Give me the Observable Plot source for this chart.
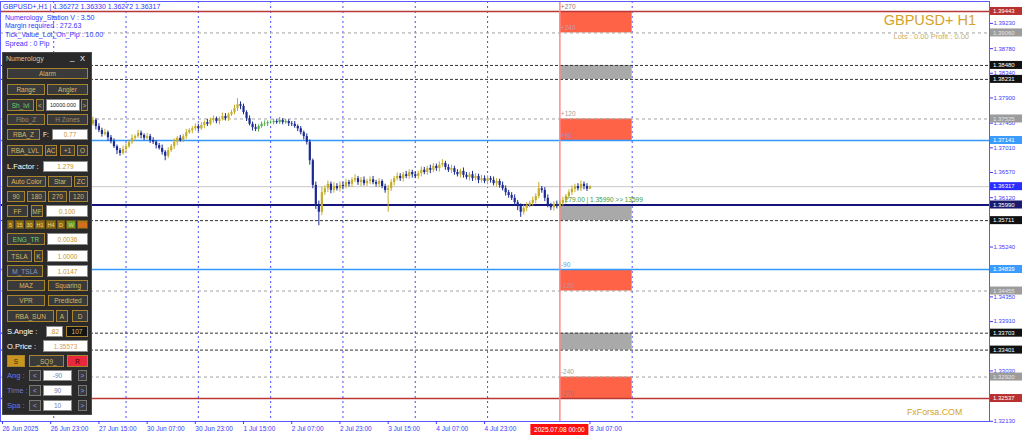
<!DOCTYPE html>
<html><head><meta charset="utf-8">
<script src="https://cdn.jsdelivr.net/npm/d3@7"></script>
<script src="https://cdn.jsdelivr.net/npm/@observablehq/plot@0.6"></script>
<style>
body{margin:0;background:#fff;}
#wrap{position:relative;width:1024px;height:439px;overflow:hidden;font-family:"Liberation Sans",Arial,sans-serif;}
#wrap>svg{position:absolute;left:0;top:0;}
.info{position:absolute;color:#3434ff;font-size:7px;line-height:8px;white-space:nowrap;}
#panel{position:absolute;left:2px;top:52px;width:90px;height:363px;background:#2a2a2a;border:1px solid #4a4a4a;box-sizing:border-box;}
.pe{position:absolute;box-sizing:border-box;display:flex;align-items:center;white-space:nowrap;font-size:6.5px;}
.b{border:1px solid #a8852c;background:#3a3a3a;color:#d8b866;justify-content:center;}
.s{border:1px solid #6a5418;background:#8a6c14;color:#e8d28a;justify-content:center;font-size:5.5px;}
.i{border:1px solid #8a8a8a;background:#fff;color:#c8962e;justify-content:center;}
.a{border:1px solid #777;background:#3a3a3a;color:#8aa0ff;justify-content:center;}
.l{color:#fff;font-size:7.5px;}
</style></head>
<body><div id="wrap"></div>
<script>
// ---------- data ----------
const firstBar = 29;                // bar index of first drawn candle (26 Jun 2025 07:00 = bar 0)
const firstOpen = 1.3735;
const closes = [
 1.3743,1.3750,1.3739,1.3732,1.3725,1.3728,1.3719,1.3712,1.3703,1.3696,1.3691,1.3698,
 1.3703,1.3711,1.3718,1.3721,1.3727,1.3723,1.3718,1.3721,1.3714,1.3711,1.3705,1.3700,1.3693,1.3686,1.3696,1.3703,1.3711,1.3718,1.3714,1.3721,1.3728,1.3732,1.3735,1.3739,
 1.3735,1.3741,1.3746,1.3743,1.3750,1.3753,1.3748,1.3752,1.3757,1.3753,1.3760,1.3764,1.3771,1.3778,1.3775,1.3764,1.3753,1.3743,1.3737,1.3734,1.3739,1.3743,1.3744,1.3746,
 1.3746,1.3748,1.3746,1.3750,1.3746,1.3748,1.3744,1.3743,1.3739,1.3735,1.3728,1.3721,1.3711,1.3678,1.3634,1.3598,1.3586,1.3621,1.3628,1.3636,1.3625,1.3632,1.3628,1.3634,
 1.3632,1.3639,1.3636,1.3643,1.3646,1.3639,1.3643,1.3637,1.3641,1.3644,1.3639,1.3636,1.3641,1.3632,1.3625,1.3628,1.3639,1.3646,1.3650,1.3646,1.3653,1.3650,1.3657,1.3653,
 1.3650,1.3655,1.3661,1.3657,1.3664,1.3661,1.3668,1.3664,1.3670,1.3673,1.3666,1.3661,1.3664,1.3657,1.3653,1.3659,1.3652,1.3648,1.3653,1.3646,1.3650,1.3643,1.3646,1.3641,
 1.3646,1.3643,1.3637,1.3641,1.3634,1.3628,1.3621,1.3616,1.3611,1.3603,1.3596,1.3586,1.3593,1.3598,1.3602,1.3607,1.3614,1.3628,1.3625,1.3611,1.3598,1.3594,1.3600,1.3596,
 1.3602,1.3607,1.3614,1.3621,1.3627,1.3632,1.3628,1.3636,1.3632,1.36272,1.36317
];
const upPips = [
 4,6,3,5,4,6,3,4,5,3,4,6,
 5,4,6,3,5,4,3,6,4,5,3,4,6,3,5,4,6,3,5,4,6,3,4,5,
 4,5,3,6,4,5,3,4,6,5,3,4,6,11,5,4,3,5,4,6,3,4,5,3,
 3,4,3,5,3,4,3,4,5,3,4,3,5,4,3,6,8,10,5,6,4,7,5,6,
 5,6,4,5,7,4,5,6,4,5,6,4,5,3,4,6,5,4,6,5,4,6,5,4,
 5,4,6,5,4,6,5,4,6,7,4,5,6,4,5,4,6,5,4,6,5,4,6,5,
 5,4,6,5,4,6,5,4,5,6,4,5,6,5,4,6,5,11,4,5,6,4,5,6,
 5,6,4,5,6,4,5,6,4,5,1.3
];
const dnPips = [
 5,3,6,4,5,3,6,4,3,7,5,3,
 6,3,4,5,3,6,4,3,5,4,6,3,5,8,4,3,5,6,3,4,5,3,6,4,
 5,3,6,4,3,5,4,6,3,4,5,3,4,5,6,4,5,3,6,4,5,3,4,5,
 3,4,3,3,4,3,5,4,3,5,4,6,5,8,6,7,24,6,5,7,6,5,4,6,
 6,4,5,6,4,5,7,4,5,6,4,5,6,4,5,39,5,6,4,5,6,4,5,6,
 4,5,6,4,5,6,4,5,6,4,5,4,6,5,4,6,5,4,6,5,4,6,5,4,
 6,5,4,6,5,4,6,5,4,6,7,9,5,6,4,5,6,4,5,6,4,5,6,4,
 4,5,6,4,5,6,4,5,6,4,0
];
const greenFrom = 85, greenTo = 96;

const levelPrices = [1.39443,1.39060,1.38480,1.38231,1.37525,1.37141,1.36317,1.35990,1.35711,1.34839,1.34455,1.33703,1.33401,1.32920,1.32537];
const levelKinds  = ["red","gray","black","black","gray","blue","price","navy","black","blue","gray","black","black","gray","red"];

const zoneTop    = [1.39443,1.38480,1.37525,1.35990,1.34839,1.33703,1.32920];
const zoneBottom = [1.39060,1.38231,1.37141,1.35711,1.34455,1.33401,1.32537];
const zoneKind   = ["red","gray","red","gray","red","gray","red"];
const zoneStart = 185, zoneEnd = 209;   // 8 Jul 00:00 -> 9 Jul 00:00

const zoneLabelText  = ["+270","+240","+120","+90","-90","-120","-240","-270"];
const zoneLabelPrice = [1.39443,1.39060,1.37525,1.37141,1.34839,1.34455,1.32920,1.32537];
const zoneLabelColor = ["#a07474","#c0a0a0","#a0a0a0","#8a96d8","#5a9ae8","#b09898","#a0a0a0","#a87070"];

const dayBars = [17,41,65,89,113,137,161,209];
const markerBar = 185;
const timeBars = [0,16,32,48,64,80,96,112,128,144,160];
const timeLabels = ["26 Jun 2025","26 Jun 23:00","27 Jun 15:00","30 Jun 07:00","30 Jun 23:00","1 Jul 15:00","2 Jul 07:00","2 Jul 23:00","3 Jul 15:00","4 Jul 07:00","4 Jul 23:00"];
const lastTimeBar = 192, lastTimeLabel = "8 Jul 07:00";
const yTicks = [1.39230,1.38780,1.38340,1.37900,1.37450,1.37010,1.36570,1.36120,1.35240,1.34350,1.33910,1.33030,1.32130];
const lineInfo = "279.00 | 1.35990 >> 13599";

// ---------- build ----------
const UP = "#c4ad2a", DOWN = "#1b2a90", GREEN = "#52ad48";
const candles = closes.map((c, k) => {
  const o = k === 0 ? firstOpen : closes[k - 1];
  const i = firstBar + k;
  return {i, o, c, hi: Math.max(o, c) + upPips[k] / 1e4, lo: Math.min(o, c) - dnPips[k] / 1e4,
    col: c >= o ? (i >= greenFrom && i <= greenTo ? GREEN : UP) : DOWN};
});
const styles = {
  red:   {stroke:"#b83838", sw:1.5, tag:"#b83030", txt:"#ffffff"},
  gray:  {stroke:"#a0a0a0", sw:1, dash:"3,3", tag:"#9c9c9c", txt:"#e4e4e4"},
  black: {stroke:"#333333", sw:1, dash:"3,2", tag:"#111111", txt:"#ffffff"},
  blue:  {stroke:"#3399ff", sw:1.5, tag:"#3a9cff", txt:"#ffffff"},
  price: {stroke:"#c8c8c8", sw:1, tag:"#2b2bff", txt:"#ffffff"},
  navy:  {stroke:"#14147a", sw:2, tag:"#1a1a6e", txt:"#ffffff"}
};
const levels = levelPrices.map((p, k) => ({p, kind: levelKinds[k]}));
const zones = zoneTop.map((t, k) => ({t, b: zoneBottom[k], fill: zoneKind[k] === "red" ? "#ff6347" : "#a9a9a9"}));
const zoneLabels = zoneLabelText.map((t, k) => ({t, p: zoneLabelPrice[k], col: zoneLabelColor[k]}));
const labelMap = new Map(timeBars.map((b, k) => [b, timeLabels[k]]));

const chart = Plot.plot({
  width: 1024, height: 439,
  marginLeft: 0, marginRight: 35, marginTop: 1, marginBottom: 18,
  x: {domain: [-0.664, 327.6], label: null},
  y: {domain: [1.32127, 1.39621], label: null},
  style: {fontFamily: "'Liberation Sans', Arial, sans-serif", background: "transparent"},
  marks: [
    Plot.ruleX(dayBars, {x: d => d, stroke: "#4b4bff", strokeDasharray: "2,3", strokeWidth: 1}),
    Plot.rect(zones, {x1: () => zoneStart, x2: () => zoneEnd, y1: "b", y2: "t", fill: "fill"}),
    ...Object.keys(styles).map(k => Plot.ruleY(levels.filter(d => d.kind === k),
        {y: "p", stroke: styles[k].stroke, strokeWidth: styles[k].sw, strokeDasharray: styles[k].dash})),
    Plot.ruleX([markerBar], {x: d => d, stroke: "#ff8a8a", strokeWidth: 1.5}),
    Plot.ruleX(candles, {x: "i", y1: "lo", y2: "hi", stroke: "col", strokeWidth: 1}),
    Plot.ruleX(candles, {x: "i", y1: "o", y2: "c", stroke: "col", strokeWidth: 2.2}),
    Plot.text(zoneLabels, {x: () => zoneStart, y: "p", text: "t", fill: "col", fontSize: 6.5, textAnchor: "start", dx: 1, dy: -5}),
    Plot.text([lineInfo], {x: () => markerBar, y: () => 1.35990, text: d => d, fill: "#3d9a3d", fontSize: 6.5, textAnchor: "start", dx: 5, dy: -5}),
    Plot.frame({stroke: "#5a5aff"}),
    Plot.axisY(yTicks, {anchor: "right", tickSize: 3, tickPadding: 1, fontSize: 6, color: "#3b3bff", textAnchor: "start", tickFormat: d3.format(".5f"), label: null}),
    Plot.axisX(timeBars, {anchor: "bottom", tickSize: 3, tickPadding: 2, fontSize: 6.5, color: "#3b3bff", textAnchor: "start", tickFormat: d => labelMap.get(d), label: null}),
    Plot.axisX([lastTimeBar], {anchor: "bottom", tickSize: 3, tickPadding: 2, fontSize: 6.5, color: "#3b3bff", textAnchor: "start", dx: 9, tickFormat: () => lastTimeLabel, label: null})
  ]
});

// price tags on the right axis and time tag, positioned through Plot's scales
const xs = chart.scale("x"), ys = chart.scale("y");
const svg = d3.select(chart);
const g = svg.append("g").attr("font-family", "'Liberation Sans', Arial, sans-serif").attr("font-size", 6).attr("text-anchor", "start");
levels.forEach(d => {
  const y = ys.apply(d.p), st = styles[d.kind];
  g.append("rect").attr("x", 990).attr("y", y - 4).attr("width", 32).attr("height", 8).attr("fill", st.tag);
  g.append("text").attr("x", 993).attr("y", y).attr("dy", "0.35em").attr("text-anchor", "start").attr("fill", st.txt).text(d.p.toFixed(5));
});
const mx = xs.apply(markerBar);
g.append("rect").attr("x", mx - 29).attr("y", 424).attr("width", 58).attr("height", 11).attr("fill", "#ff1010");
g.append("text").attr("x", mx).attr("y", 429.5).attr("dy", "0.35em").attr("text-anchor", "middle").attr("fill", "#fff").attr("font-size", 6.5).text("2025.07.08 00:00");

const wrap = document.getElementById("wrap");
wrap.appendChild(chart);

// ---------- overlays: info text ----------
function addDiv(cls, text, css) {
  const d = document.createElement("div");
  d.className = cls; d.textContent = text; Object.assign(d.style, css); wrap.appendChild(d); return d;
}
const infoLines = ["GBPUSD+,H1 | 1.36272 1.36330 1.36272 1.36317","Numerology_Station V : 3.50","Margin required : 272.63","Tick_Value_Lot_On_Pip : 10.00","Spread : 0  Pip"];
const infoTops = [2.5, 13.5, 22, 31, 40];
infoLines.forEach((t, k) => addDiv("info", t, {left: (k === 0 ? 3 : 5) + "px", top: infoTops[k] + "px"}));
addDiv("", "GBPUSD+ H1", {position:"absolute", right:"48px", top:"12px", fontSize:"14.5px", color:"#d4a32a", whiteSpace:"nowrap"});
addDiv("", "Lots : 0.00 Profit : 0.00", {position:"absolute", right:"55px", top:"32px", fontSize:"7.5px", color:"#c9ad66", whiteSpace:"nowrap"});
addDiv("", "FxForsa.COM", {position:"absolute", left:"907px", top:"407px", fontSize:"8.8px", color:"#d4a32a", whiteSpace:"nowrap"});

// ---------- overlay: Numerology panel ----------
const panel = document.createElement("div"); panel.id = "panel"; wrap.appendChild(panel);
const P = [
 ["l","Numerology",6,53,60,63,{color:"#d8c8a0",fontSize:"7px"}],["l","_",70,52,76,62,{fontSize:"8px"}],["l","X",80,53,88,63,{fontSize:"7.5px"}],
 ["b","Alarm",7,68,88,79],
 ["b","Range",7,84,45,95],["b","Angler",47,84,88,95],
 ["b","Sh_lvl",7,99,34,111,{color:"#6cd06c"}],["b","<",36,99,44,111],["i","10000.000",46,99,80,111,{color:"#222",fontSize:"5.5px"}],["b",">",81,99,88,111],
 ["b","Fibo_Z",7,114,45,125,{color:"#9a8a6a"}],["b","H Zones",47,114,88,125,{color:"#9a8a6a"}],
 ["b","RBA_Z",7,129,40,140],["l","F:",43,129,51,140,{fontSize:"6.5px"}],["i","0.77",52,129,88,140],
 ["b","RBA_LVL",7,145,43,156],["b","AC",45,145,57,156],["b","+1",60,145,75,156],["b","O",77,145,88,156],
 ["l","L.Factor :",7,161,42,172],["i","1.279",43,161,88,172],
 ["b","Auto Color",7,176,46,187],["b","Star",48,176,72,187],["b","ZC",74,176,88,187],
 ["b","90",7,191,25,202],["b","180",27,191,46,202],["b","270",48,191,67,202],["b","120",69,191,88,202],
 ["b","FF",7,205,28,217],["b","MF",31,205,43,217],["i","0.100",46,205,88,217],
 ["s","5",7,220,14,229],["s","15",15,220,24,229],["s","30",25,220,34,229],["s","H1",35,220,45,229],["s","H4",46,220,56,229],["s","D",57,220,65,229],["s","W",66,220,76,229,{background:"#6a9a20"}],["s","MN",77,220,88,229,{background:"#b87818",color:"#ff5a3a"}],
 ["b","ENG_TR",7,233,45,245,{color:"#6cd06c"}],["i","0.0036",47,233,88,245],
 ["b","TSLA",7,250,32,262],["b","K",34,250,43,262],["i","1.0000",47,250,88,262],
 ["b","M_TSLA",7,265,43,277,{color:"#8a96c8"}],["i","1.0147",47,265,88,277],
 ["b","MAZ",7,280,45,291],["b","Squaring",48,280,88,291],
 ["b","VPR",7,295,45,306],["b","Predicted",48,295,88,306],
 ["b","RBA_SUN",7,310,54,322],["b","A",56,310,68,322],["b","D",72,310,88,322],
 ["l","S.Angle :",7,326,45,337],["i",".82",46,326,63,337],["b","107",66,326,88,337,{background:"#151515"}],
 ["l","O.Price :",7,340,42,352],["i","1.35573",43,340,88,352,{color:"#e09a50"}],
 ["b","S",7,355,25,367,{background:"#c8961e",color:"#3a2a00"}],["b","_SQ9_",29,355,64,367],["b","R",67,355,88,367,{background:"#e8283c",color:"#5a0000"}],
 ["l","Ang :",7,370,27,381,{color:"#6c78e8"}],["a","<",29,370,41,381],["i","-90",43,370,72,381,{color:"#7080b0"}],["a",">",78,370,87,381],
 ["l","Time :",7,385,27,396,{color:"#6c78e8"}],["a","<",29,385,41,396],["i","90",43,385,72,396,{color:"#7080b0"}],["a",">",78,385,87,396],
 ["l","Spa :",7,400,27,411,{color:"#6c78e8"}],["a","<",29,400,41,411],["i","10",43,400,72,411,{color:"#7080b0"}],["a",">",78,400,87,411]
];
P.forEach(([cls, text, x1, y1, x2, y2, extra]) => {
  const d = document.createElement("div");
  d.className = "pe " + cls; d.textContent = text;
  Object.assign(d.style, {left: (x1 - 3) + "px", top: (y1 - 53) + "px", width: (x2 - x1) + "px", height: (y2 - y1) + "px"}, extra || {});
  panel.appendChild(d);
});
</script>
</body></html>
